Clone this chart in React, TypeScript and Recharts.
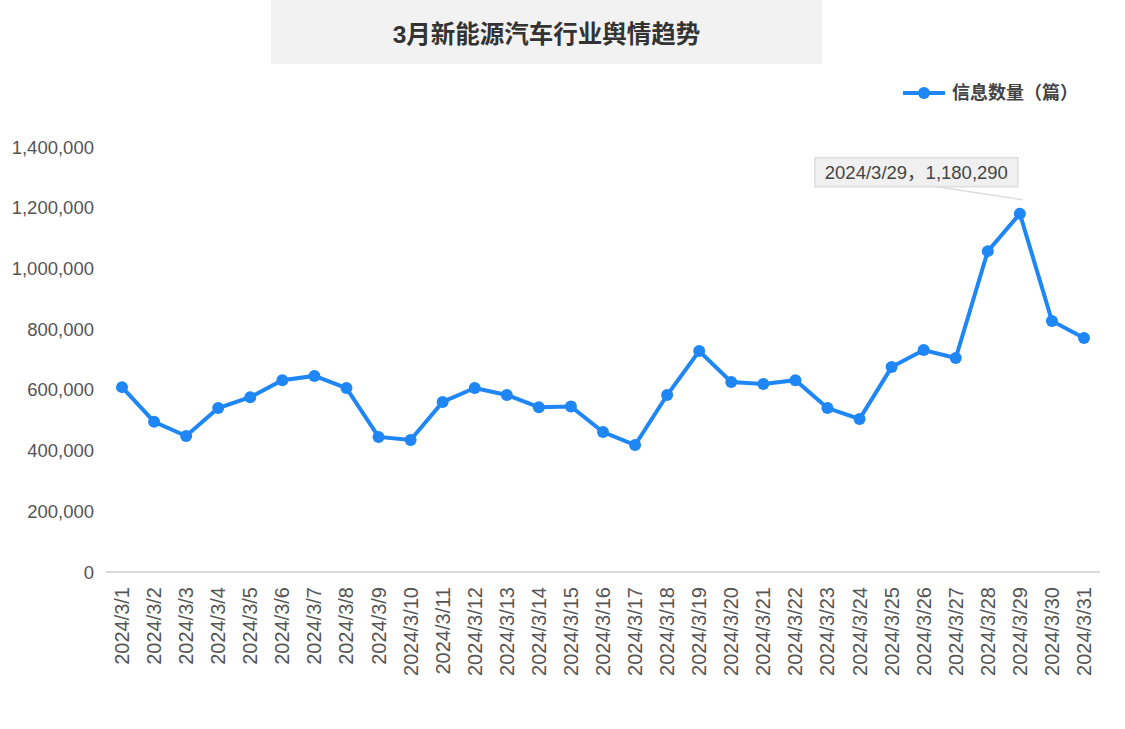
import { LineChart, Line, XAxis, YAxis, ReferenceDot } from 'recharts';

const dates = [
  '2024/3/1', '2024/3/2', '2024/3/3', '2024/3/4', '2024/3/5', '2024/3/6', '2024/3/7', '2024/3/8',
  '2024/3/9', '2024/3/10', '2024/3/11', '2024/3/12', '2024/3/13', '2024/3/14', '2024/3/15', '2024/3/16',
  '2024/3/17', '2024/3/18', '2024/3/19', '2024/3/20', '2024/3/21', '2024/3/22', '2024/3/23', '2024/3/24',
  '2024/3/25', '2024/3/26', '2024/3/27', '2024/3/28', '2024/3/29', '2024/3/30', '2024/3/31',
];

const counts = [
  609000, 495000, 448000, 540000, 576000, 632000, 646000, 606000,
  445000, 435000, 560000, 606000, 583000, 543000, 545000, 461000,
  418000, 583000, 728000, 626000, 619000, 632000, 540000, 504000,
  675000, 731000, 705000, 1057000, 1180290, 827000, 771000,
];

const yTicks = [0, 200000, 400000, 600000, 800000, 1000000, 1200000, 1400000];

const TITLE = '3月新能源汽车行业舆情趋势';
const SERIES_NAME = '信息数量（篇）';
const PEAK_INDEX = 28;

const FONT = '"Liberation Sans", Arial, "Noto Sans CJK SC", sans-serif';
const BLUE = '#1f87f5';

const chartData = dates.map((date, i) => ({ date, value: counts[i] }));

const fmt = (v: number) => v.toLocaleString('en-US');

// 旋转的日期标签
const DateTick = ({ x, y, payload }: any) => (
  <text
    x={x}
    y={y + 15}
    transform={`rotate(-90, ${x}, ${y + 15})`}
    textAnchor="end"
    dominantBaseline="central"
    fill="#555"
    fontSize={20}
    fontFamily={FONT}
  >
    {payload.value}
  </text>
);

// 峰值标注
const PeakCallout = ({ cx, cy }: any) => {
  if (cx == null || cy == null) return null;
  const label = `${dates[PEAK_INDEX]}，${fmt(counts[PEAK_INDEX])}`;
  return (
    <g>
      <line x1={cx - 83} y1={cy - 27} x2={cx + 3} y2={cy - 14} stroke="#ddd" strokeWidth={1.5} />
      <rect x={cx - 205} y={cy - 56} width={203} height={29} fill="#f0f0f0" stroke="#ddd" strokeWidth={1.5} />
      <text
        x={cx - 103.5}
        y={cy - 41}
        textAnchor="middle"
        dominantBaseline="central"
        fill="#444"
        fontSize={18.5}
        fontFamily={FONT}
      >
        {label}
      </text>
    </g>
  );
};

export default function App() {
  return (
    <div style={{ position: 'absolute', left: 0, top: 0, width: 1125, height: 729, background: '#fff' }}>
      <div
        style={{
          position: 'absolute',
          left: 271,
          top: 0,
          width: 551,
          height: 64,
          background: '#f2f2f2',
          display: 'flex',
          alignItems: 'center',
          justifyContent: 'center',
          fontFamily: FONT,
          fontSize: 24.5,
          fontWeight: 'bold',
          color: '#333',
        }}
      >
        {TITLE}
      </div>
      {/* 图例 */}
      <div
        style={{
          position: 'absolute',
          left: 902,
          top: 82,
          display: 'flex',
          alignItems: 'center',
          fontFamily: FONT,
        }}
      >
        <svg width={44} height={22}>
          <line x1={1} y1={11} x2={43} y2={11} stroke={BLUE} strokeWidth={4} />
          <circle cx={22} cy={11} r={6} fill={BLUE} />
        </svg>
        <span style={{ marginLeft: 6, fontSize: 18, fontWeight: 'bold', color: '#444', lineHeight: '22px' }}>
          {SERIES_NAME}
        </span>
      </div>
      <LineChart
        width={1125}
        height={729}
        data={chartData}
        margin={{ top: 147, right: 25, bottom: 0, left: 0 }}
      >
        <XAxis
          dataKey="date"
          interval={0}
          height={157}
          padding={{ left: 16, right: 16 }}
          tick={<DateTick />}
          tickLine={false}
          tickSize={0}
          tickMargin={0}
          axisLine={{ stroke: '#d9d9d9', strokeWidth: 2 }}
        />
        <YAxis
          width={106}
          domain={[0, 1400000]}
          ticks={yTicks}
          tickFormatter={fmt}
          axisLine={false}
          tickLine={false}
          tickSize={0}
          tickMargin={12}
          tick={{ fill: '#555', fontSize: 18.5, fontFamily: FONT }}
        />
        <Line
          type="linear"
          dataKey="value"
          name={SERIES_NAME}
          stroke={BLUE}
          strokeWidth={4}
          dot={{ r: 6, fill: BLUE, stroke: BLUE, strokeWidth: 0 }}
          activeDot={false}
          isAnimationActive={false}
        />
        <ReferenceDot
          x={dates[PEAK_INDEX]}
          y={counts[PEAK_INDEX]}
          r={0}
          shape={<PeakCallout />}
        />
      </LineChart>
    </div>
  );
}
